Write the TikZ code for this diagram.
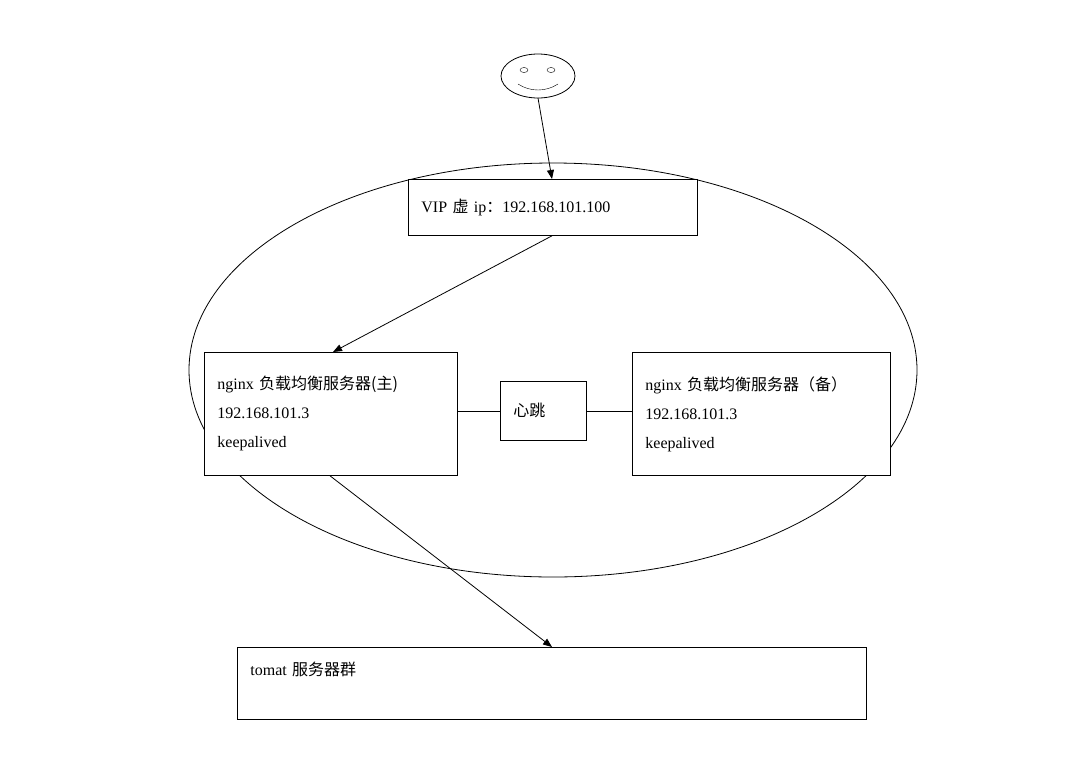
\documentclass[tikz,border=0pt]{standalone}
\usepackage{fontspec}
\setmainfont{Liberation Serif}
\newfontfamily\cjk{Noto Sans CJK SC}
\newcommand{\zh}[1]{{\cjk #1}}
\usetikzlibrary{arrows.meta}
\tikzset{
  box/.style={draw, thick, anchor=north west, align=left, inner xsep=13pt,
    font=\fontsize{16}{29}\selectfont},
  link/.style={draw, thick, -{Triangle[length=9pt,width=7pt]}}
}
\begin{document}
\begin{tikzpicture}[x=1pt,y=-1pt]
\useasboundingbox (0,0) rectangle (1071,777);
% smiley
\draw[thick] (538,76) ellipse (37 and 22);
\draw (524,70) ellipse (4 and 2.5);
\draw (551,70) ellipse (4 and 2.5);
\draw (518,84) .. controls (530,92) and (546,92) .. (558,84);
\coordinate (face) at (538,98);
% outer ellipse
\draw[thick] (553,370) ellipse (364 and 207);
% boxes
\node[box, fill=white, minimum width=289pt, minimum height=56pt, text width=263pt] (vip) at (408,179)
  {VIP \zh{虚} ip\zh{：}192.168.101.100};
\node[box, fill=white, minimum width=253pt, minimum height=123pt, text width=227pt] (main) at (204,352)
  {nginx \zh{负载均衡服务器(主)}\\192.168.101.3\\keepalived};
\node[box, fill=white, minimum width=258pt, minimum height=123pt, text width=232pt] (backup) at (632,352)
  {nginx \zh{负载均衡服务器（备）}\\192.168.101.3\\keepalived};
\node[box, minimum width=86pt, minimum height=59pt, text width=60pt] (beat) at (500,381) {\zh{心跳}};
\node[box, minimum width=629pt, minimum height=72pt, text width=603pt] (tomcat) at (237,647)
  {tomat \zh{服务器群}\\\mbox{}};
% connectors
\draw[link] (face) -- (vip.north west -| 552,0);
\draw[link] (vip.south west -| 552,0) -- (main.north west -| 333,0);
\draw[thick] (main.east |- beat.west) -- (beat.west);
\draw[thick] (beat.east) -- (backup.west |- beat.east);
\draw[link] (main.south west -| 330,0) -- (tomcat.north west -| 552,0);
\end{tikzpicture}
\end{document}
